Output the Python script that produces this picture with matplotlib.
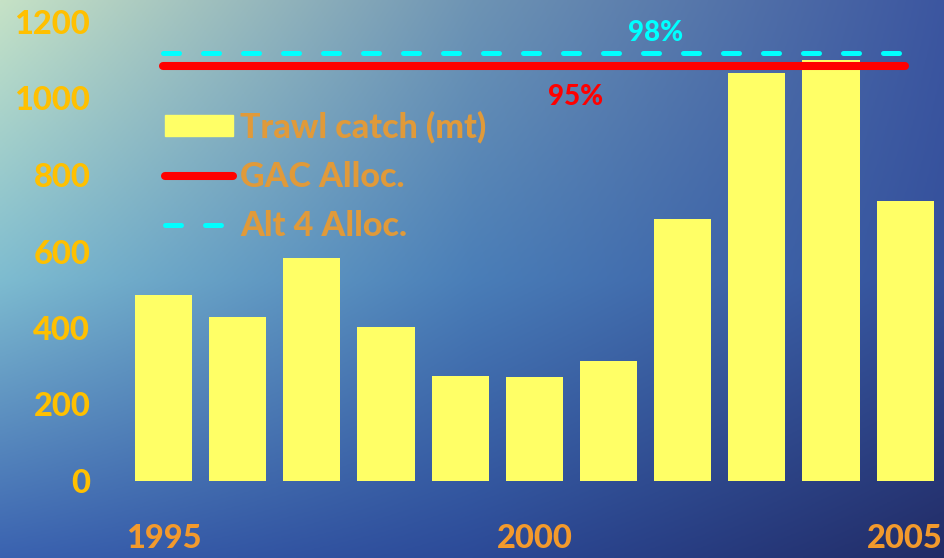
import numpy as np
import matplotlib.pyplot as plt
from matplotlib.colors import to_rgb
from matplotlib.patches import Patch
from matplotlib.lines import Line2D

years = ["1995", "1996", "1997", "1998", "1999", "2000", "2001", "2002", "2003", "2004", "2005"]
trawl_catch = [486, 429, 583, 403, 275, 272, 314, 685, 1067, 1101, 732]
gac_alloc = 1085
alt4_alloc = 1119
shown_years = ["1995", "2000", "2005"]

plt.rcParams["font.family"] = ["Lato", "DejaVu Sans"]
plt.rcParams["font.weight"] = 900

fig = plt.figure(figsize=(9.45, 5.58), dpi=100)

# ocean-like background gradient
grid = [["#C6E2C6", "#6E94B4", "#3C56A0"],
        ["#7EBCD0", "#4A7EB8", "#34509C"],
        ["#3A62B0", "#2C4A98", "#222C66"]]
g = np.array([[to_rgb(c) for c in row] for row in grid])
h, w = 279, 472
yy = np.linspace(0, 2, h)
xx = np.linspace(0, 2, w)
img = np.zeros((h, w, 3))
for ch in range(3):
    rows = np.array([np.interp(xx, [0, 1, 2], g[r, :, ch]) for r in range(3)])
    img[:, :, ch] = np.array([np.interp(yy, [0, 1, 2], rows[:, j]) for j in range(w)]).T
bg = fig.add_axes([0, 0, 1, 1])
bg.imshow(img, aspect="auto", extent=[0, 1, 0, 1])
bg.axis("off")

ax = fig.add_axes([126.4 / 945, 77 / 558, 815.9 / 945, 459 / 558])
ax.patch.set_alpha(0)
x = np.arange(len(years))
ax.bar(x, trawl_catch, width=0.77, color="#FFFF66", zorder=2)
ax.plot([x[0], x[-1]], [alt4_alloc] * 2, color="#00FFFF", lw=3.6,
        linestyle=(0, (3.2, 4.8)), dash_capstyle="round", zorder=3)
ax.plot([x[0], x[-1]], [gac_alloc] * 2, color="#FF0000", lw=5.8,
        solid_capstyle="round", zorder=3)

ax.text(6.63, 1171, "98%", color="#00FFFF", fontsize=20, ha="center", va="center")
ax.text(5.55, 1004, "95%", color="#FF0000", fontsize=20, ha="center", va="center")

ax.set_xlim(-0.5, 10.5)
ax.set_ylim(0, 1200)
ax.set_yticks(range(0, 1201, 200))
ax.set_xticks([years.index(y) for y in shown_years])
ax.set_xticklabels(shown_years)
ax.tick_params(axis="y", length=0, pad=26, labelsize=23.5, labelcolor="#FFC000")
ax.tick_params(axis="x", length=0, pad=31, labelsize=23.5, labelcolor="#F39A2C")
for s in ax.spines.values():
    s.set_visible(False)

handles = [Patch(color="#FFFF66"),
           Line2D([], [], color="#FF0000", lw=5.8, solid_capstyle="round"),
           Line2D([], [], color="#00FFFF", lw=3.6, linestyle=(0, (3.2, 4.8)),
                  dash_capstyle="round")]
leg = fig.legend(handles, ["Trawl catch (mt)", "GAC Alloc.", "Alt 4 Alloc."],
                 loc="upper left", bbox_to_anchor=(165 / 945, 1 - 111 / 558),
                 frameon=False, fontsize=24.5, handlelength=2.0, handletextpad=0.2,
                 handleheight=0.56, labelspacing=0.5, borderpad=0, borderaxespad=0)
for t in leg.get_texts():
    t.set_color("#E09A3A")

plt.savefig("out.png", dpi=100)
